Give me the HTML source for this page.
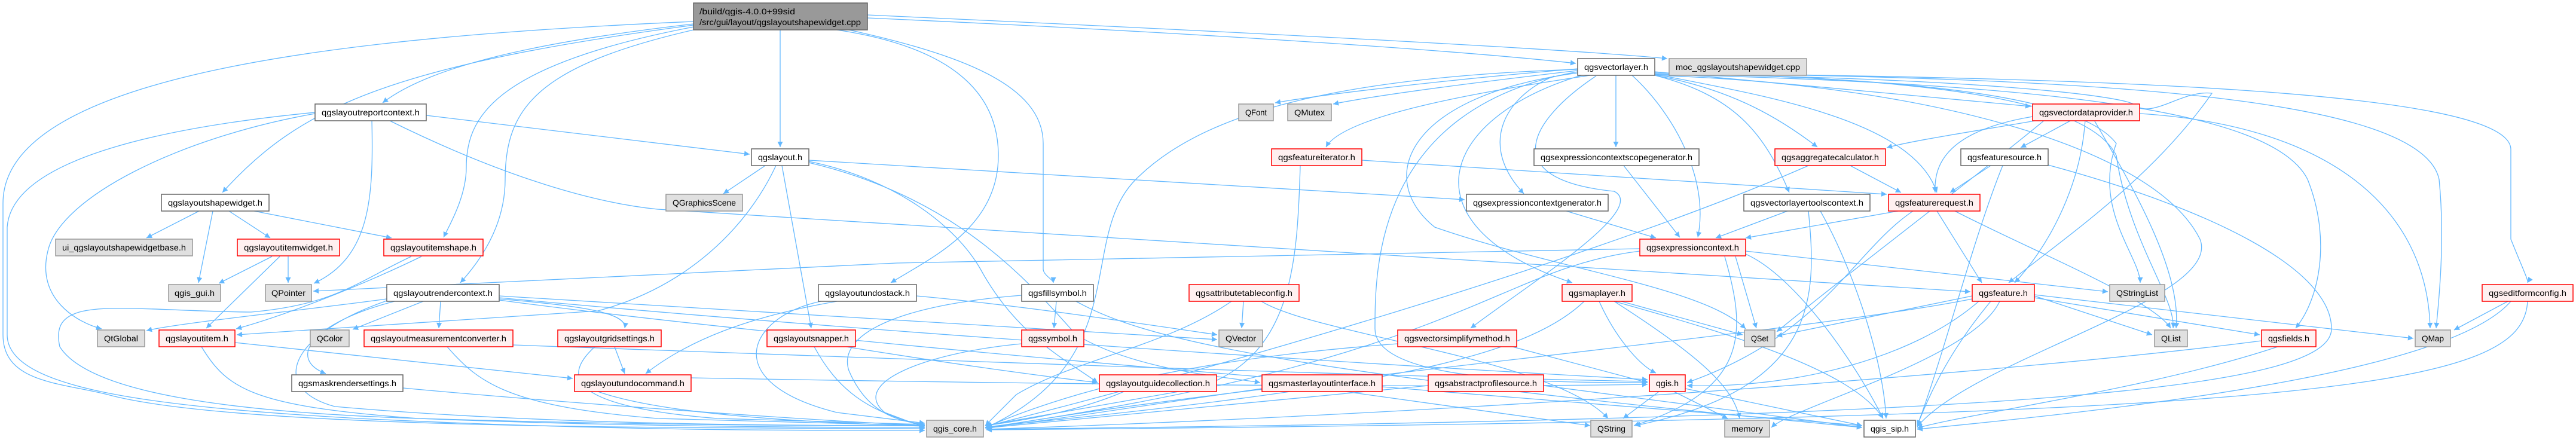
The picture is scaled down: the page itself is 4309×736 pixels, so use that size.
<!DOCTYPE html>
<html><head><meta charset="utf-8"><style>
html,body{margin:0;padding:0;background:#fff;}
svg{display:block;}
text{font-family:"Liberation Sans",sans-serif;font-size:14px;fill:#000;}
.e{fill:none;stroke:#63b8ff;stroke-width:1.3;}
.w{fill:#fff;stroke:#666;stroke-width:1.5;}
.r{fill:#fff0f0;stroke:#ff0000;stroke-width:1.5;}
.g{fill:#e0e0e0;stroke:#999;stroke-width:1.5;}
</style></head><body>
<svg width="4309" height="736" viewBox="0 0 4309 736" xmlns="http://www.w3.org/2000/svg">
<defs><marker id="a" viewBox="0 0 10 10" refX="10" refY="5" markerWidth="11" markerHeight="9" markerUnits="userSpaceOnUse" orient="auto"><path d="M0,0 L10,5 L0,10 z" fill="#63b8ff"/></marker></defs>
<g class="e" marker-end="url(#a)">
<path d="M1305 50 L1305 246"/>
<path d="M1160 40 C900 70 720 110 640 172"/>
<path d="M1160 42 C650 110 500 180 372 322"/>
<path d="M1160 45 C820 110 780 200 780 280 C780 330 750 380 742 397"/>
<path d="M1160 50 C900 110 845 180 845 300 C845 380 800 440 770 473"/>
<path d="M1160 36 C600 60 5 120 5 340 L5 560 C5 640 100 640 180 660 C400 720 1200 715 1547 717"/>
<path d="M1400 50 C1600 80 1670 160 1670 260 C1670 380 1560 430 1490 473"/>
<path d="M1420 50 C1600 90 1745 140 1745 240 L1745 450 C1745 460 1762 468 1762 473"/>
<path d="M1451 30 C1900 50 2400 80 2636 106"/>
<path d="M1451 25 C2000 50 2600 80 2789 98"/>
<path d="M527 190 C300 230 100 330 80 420 C60 500 130 540 170 550"/>
<path d="M622 201 C625 330 620 430 525 474"/>
<path d="M527 188 C300 210 20 260 12 380 L12 560 C12 650 250 680 600 700 C1000 720 1300 720 1547 720"/>
<path d="M713 193 L1254 258"/>
<path d="M650 201 C850 300 1000 340 1100 350 L3296 488"/>
<path d="M333 353 L245 398"/>
<path d="M356 353 L332 473"/>
<path d="M383 353 L452 398"/>
<path d="M425 353 L655 398"/>
<path d="M455 429 L366 474"/>
<path d="M482 429 L482 473"/>
<path d="M468 429 L345 549"/>
<path d="M705 429 C600 480 470 530 395 550"/>
<path d="M688 429 C600 470 560 510 420 522 C200 520 80 490 100 580 C150 660 400 690 700 700 C1100 712 1400 712 1547 712"/>
<path d="M647 500 C500 520 300 540 245 553"/>
<path d="M708 504 L590 551"/>
<path d="M737 504 L734 549"/>
<path d="M660 504 C520 540 480 600 545 625"/>
<path d="M650 502 C480 560 450 650 560 680 C900 710 1300 712 1547 712"/>
<path d="M835 495 L2036 568"/>
<path d="M835 500 C950 510 1050 520 1045 549"/>
<path d="M835 498 C1500 560 2300 610 2756 635"/>
<path d="M835 502 C1500 590 2500 660 3115 712"/>
<path d="M2743 416 L1500 440 L524 487"/>
<path d="M337 580 C380 650 420 680 700 700 C1000 712 1300 715 1547 715"/>
<path d="M393 573 L958 633"/>
<path d="M748 580 C800 640 850 680 1100 700 L1547 712"/>
<path d="M858 577 C1500 600 2300 630 2756 638"/>
<path d="M1028 580 L1045 625"/>
<path d="M995 580 C940 630 950 680 1200 700 L1547 710"/>
<path d="M674 649 C900 670 1300 700 1547 712"/>
<path d="M1000 655 C1100 690 1300 705 1547 713"/>
<path d="M1156 632 C1600 640 2300 650 2756 643"/>
<path d="M1280 277 L1210 324"/>
<path d="M1298 277 C1250 380 1150 480 1000 520 L396 560"/>
<path d="M1308 277 L1357 549"/>
<path d="M1353 268 L2450 334"/>
<path d="M1353 270 C1500 300 1600 380 1640 450 C1700 560 1780 600 1836 640"/>
<path d="M1353 272 C1600 330 1720 470 1800 560 C1900 620 2050 630 2108 640"/>
<path d="M1400 504 C1250 530 1150 570 1080 625"/>
<path d="M1373 504 C1250 530 1200 640 1400 690 L1547 708"/>
<path d="M1533 495 C1700 510 1900 540 2036 560"/>
<path d="M1767 504 L1763 549"/>
<path d="M1709 494 C1500 510 1400 560 1420 620 C1450 690 1500 705 1547 710"/>
<path d="M1800 504 C1900 560 2100 620 3115 715"/>
<path d="M2080 504 L2077 549"/>
<path d="M2060 504 C1950 580 1800 600 1700 660 L1648 712"/>
<path d="M2110 504 C2200 560 2600 600 2690 700"/>
<path d="M1362 580 C1400 650 1450 690 1547 712"/>
<path d="M1415 580 C1600 610 1750 630 1836 640"/>
<path d="M1709 575 C1550 590 1420 640 1480 690 L1547 715"/>
<path d="M1880 655 C1800 690 1700 705 1648 712"/>
<path d="M2111 650 C1900 680 1750 705 1648 715"/>
<path d="M2250 655 L2660 712"/>
<path d="M2639 115 C2400 135 2200 160 2133 172"/>
<path d="M2639 118 C2450 140 2300 160 2230 174"/>
<path d="M2660 126 C2500 150 2250 190 2218 246"/>
<path d="M2703 126 L2703 246"/>
<path d="M2600 127 C2520 160 2470 240 2549 324"/>
<path d="M2730 126 C2800 190 2860 300 2840 397"/>
<path d="M2768 126 C2900 150 2980 200 3040 246"/>
<path d="M2768 126 C2900 160 2950 220 2993 322"/>
<path d="M2768 124 C2950 160 3200 200 3240 322"/>
<path d="M2768 120 C3000 140 3200 160 3397 178"/>
<path d="M2645 126 C2400 200 2350 380 2630 473"/>
<path d="M2670 127 C2560 200 2500 300 2700 320 C2760 350 2550 480 2460 549"/>
<path d="M2639 122 C2350 160 2300 300 2400 380 C2600 450 2850 480 2920 550"/>
<path d="M2639 120 C2300 180 2300 450 2300 550 C2300 640 2600 640 2756 640"/>
<path d="M2639 116 C2200 130 2000 200 1900 300 C1800 400 1900 600 1648 716"/>
<path d="M2768 122 C3500 130 4200 150 4200 250 L4200 400 C4220 450 4230 470 4228 473"/>
<path d="M2768 122 C3500 130 4050 160 4080 300 C4090 400 4080 500 4075 549"/>
<path d="M2768 124 C3400 140 3800 180 3860 300 C3900 400 3880 500 3840 549"/>
<path d="M2768 122 C3300 130 3500 180 3540 260 C3560 400 3640 500 3635 549"/>
<path d="M2768 122 C3200 130 3480 160 3540 240 C3500 350 3580 430 3580 473"/>
<path d="M2768 124 C3300 130 3550 160 3570 175 C3600 200 3650 150 3700 156 C3600 300 3450 400 3360 473"/>
<path d="M2768 126 C3200 140 3600 240 3680 400 C3720 500 3300 600 3207 714"/>
<path d="M3465 201 L3380 247"/>
<path d="M3400 195 C3250 220 3235 280 3237 322"/>
<path d="M3488 201 C3480 320 3420 420 3370 473"/>
<path d="M3503 201 C3560 300 3650 450 3640 549"/>
<path d="M3579 190 C3900 210 4060 350 4065 549"/>
<path d="M3410 201 C3300 220 3200 235 3156 247"/>
<path d="M3420 201 C3300 300 3100 450 2972 555"/>
<path d="M3330 277 L3262 322"/>
<path d="M3350 277 C3300 400 3250 600 3207 712"/>
<path d="M3426 276 C3700 350 3900 450 3900 550 C3900 650 3400 700 1650 718"/>
<path d="M3095 277 L3180 322"/>
<path d="M3025 277 C2700 420 2100 600 1650 713"/>
<path d="M2716 277 L2810 397"/>
<path d="M2620 353 L2770 398"/>
<path d="M2990 353 L2870 398"/>
<path d="M3025 353 C3040 500 3040 650 2735 712"/>
<path d="M3045 353 C3100 450 3150 600 3155 700"/>
<path d="M3175 353 L2920 398"/>
<path d="M3240 353 L3315 473"/>
<path d="M3270 353 C3400 420 3600 500 3631 549"/>
<path d="M3200 353 C3100 420 3050 560 2822 640"/>
<path d="M2278 268 L3156 325"/>
<path d="M2175 277 C2170 450 2160 600 2000 650 L1648 712"/>
<path d="M2903 429 L2938 549"/>
<path d="M2885 429 C2920 550 2930 650 2733 712"/>
<path d="M2920 420 L3526 488"/>
<path d="M2743 420 C2500 450 2450 600 1650 715"/>
<path d="M2920 425 C3000 460 3100 600 3150 700"/>
<path d="M2712 504 L2915 560"/>
<path d="M2675 504 C2700 560 2740 610 2770 624"/>
<path d="M2700 504 C2900 560 3100 620 3150 700"/>
<path d="M2650 504 C2550 600 2300 650 1650 714"/>
<path d="M2700 504 C2850 600 2900 650 2910 700"/>
<path d="M2338 575 C2000 600 1800 650 1648 715"/>
<path d="M2530 580 L2756 640"/>
<path d="M2389 645 L1648 716"/>
<path d="M2582 645 L3115 715"/>
<path d="M2775 655 L2715 700"/>
<path d="M2800 655 L2890 700"/>
<path d="M2819 650 L3115 712"/>
<path d="M3403 495 L3600 560"/>
<path d="M3403 498 L3780 560"/>
<path d="M3403 493 L4037 566"/>
<path d="M3299 495 L2972 562"/>
<path d="M3299 500 C3000 560 2000 650 1650 717"/>
<path d="M3330 504 C3250 600 3220 680 3207 712"/>
<path d="M3310 504 C3200 600 3000 650 2822 645"/>
<path d="M3345 504 C3300 600 3000 680 2963 715"/>
<path d="M3783 570 C3400 620 2500 690 1650 718"/>
<path d="M3810 580 C3600 650 3300 690 3207 716"/>
<path d="M4195 504 L4105 552"/>
<path d="M4228 504 C4220 650 3900 700 1650 719"/>
<path d="M4200 504 C4100 620 3600 680 3207 718"/>
</g>
<g>
<rect class="g" x="1160" y="5" width="291" height="45" style="fill:#999;stroke:#666"/>
<text x="1170" y="24" textLength="160" lengthAdjust="spacingAndGlyphs">/build/qgis-4.0.0+99sid</text>
<text x="1170" y="42" textLength="270" lengthAdjust="spacingAndGlyphs">/src/gui/layout/qgslayoutshapewidget.cpp</text>
<rect class="w" x="527" y="174" width="186" height="28"/><text x="538" y="193" textLength="164" lengthAdjust="spacingAndGlyphs">qgslayoutreportcontext.h</text>
<rect class="w" x="270" y="325" width="180" height="28"/><text x="281" y="344" textLength="158" lengthAdjust="spacingAndGlyphs">qgslayoutshapewidget.h</text>
<rect class="g" x="93" y="400" width="229" height="28"/><text x="104" y="419" textLength="207" lengthAdjust="spacingAndGlyphs">ui_qgslayoutshapewidgetbase.h</text>
<rect class="r" x="397" y="400" width="171" height="28"/><text x="408" y="419" textLength="149" lengthAdjust="spacingAndGlyphs">qgslayoutitemwidget.h</text>
<rect class="r" x="642" y="400" width="166" height="28"/><text x="653" y="419" textLength="144" lengthAdjust="spacingAndGlyphs">qgslayoutitemshape.h</text>
<rect class="g" x="282" y="476" width="87" height="28"/><text x="292" y="495" textLength="67" lengthAdjust="spacingAndGlyphs">qgis_gui.h</text>
<rect class="g" x="444" y="476" width="77" height="28"/><text x="454" y="495" textLength="57" lengthAdjust="spacingAndGlyphs">QPointer</text>
<rect class="w" x="647" y="476" width="188" height="28"/><text x="658" y="495" textLength="166" lengthAdjust="spacingAndGlyphs">qgslayoutrendercontext.h</text>
<rect class="g" x="163" y="552" width="79" height="28"/><text x="174" y="571" textLength="57" lengthAdjust="spacingAndGlyphs">QtGlobal</text>
<rect class="r" x="266" y="552" width="127" height="28"/><text x="277" y="571" textLength="105" lengthAdjust="spacingAndGlyphs">qgslayoutitem.h</text>
<rect class="g" x="519" y="552" width="65" height="28"/><text x="530" y="571" textLength="43" lengthAdjust="spacingAndGlyphs">QColor</text>
<rect class="r" x="609" y="552" width="249" height="28"/><text x="620" y="571" textLength="227" lengthAdjust="spacingAndGlyphs">qgslayoutmeasurementconverter.h</text>
<rect class="r" x="933" y="552" width="173" height="28"/><text x="944" y="571" textLength="151" lengthAdjust="spacingAndGlyphs">qgslayoutgridsettings.h</text>
<rect class="w" x="488" y="627" width="186" height="28"/><text x="499" y="646" textLength="164" lengthAdjust="spacingAndGlyphs">qgsmaskrendersettings.h</text>
<rect class="r" x="961" y="627" width="195" height="28"/><text x="972" y="646" textLength="173" lengthAdjust="spacingAndGlyphs">qgslayoutundocommand.h</text>
<rect class="w" x="1257" y="249" width="96" height="28"/><text x="1268" y="268" textLength="74" lengthAdjust="spacingAndGlyphs">qgslayout.h</text>
<rect class="g" x="1114" y="325" width="128" height="28"/><text x="1125" y="344" textLength="106" lengthAdjust="spacingAndGlyphs">QGraphicsScene</text>
<rect class="w" x="1369" y="476" width="164" height="28"/><text x="1380" y="495" textLength="142" lengthAdjust="spacingAndGlyphs">qgslayoutundostack.h</text>
<rect class="w" x="1709" y="476" width="120" height="28"/><text x="1720" y="495" textLength="98" lengthAdjust="spacingAndGlyphs">qgsfillsymbol.h</text>
<rect class="r" x="1989" y="476" width="184" height="28"/><text x="2000" y="495" textLength="162" lengthAdjust="spacingAndGlyphs">qgsattributetableconfig.h</text>
<rect class="r" x="1283" y="552" width="148" height="28"/><text x="1294" y="571" textLength="126" lengthAdjust="spacingAndGlyphs">qgslayoutsnapper.h</text>
<rect class="r" x="1709" y="552" width="104" height="28"/><text x="1720" y="571" textLength="82" lengthAdjust="spacingAndGlyphs">qgssymbol.h</text>
<rect class="g" x="2039" y="552" width="73" height="28"/><text x="2050" y="571" textLength="51" lengthAdjust="spacingAndGlyphs">QVector</text>
<rect class="r" x="1839" y="627" width="196" height="28"/><text x="1850" y="646" textLength="174" lengthAdjust="spacingAndGlyphs">qgslayoutguidecollection.h</text>
<rect class="r" x="2111" y="627" width="201" height="28"/><text x="2122" y="646" textLength="179" lengthAdjust="spacingAndGlyphs">qgsmasterlayoutinterface.h</text>
<rect class="g" x="1550" y="703" width="95" height="28"/><text x="1561" y="722" textLength="73" lengthAdjust="spacingAndGlyphs">qgis_core.h</text>
<rect class="g" x="2072" y="174" width="58" height="28"/><text x="2083" y="193" textLength="36" lengthAdjust="spacingAndGlyphs">QFont</text>
<rect class="g" x="2154" y="174" width="73" height="28"/><text x="2165" y="193" textLength="51" lengthAdjust="spacingAndGlyphs">QMutex</text>
<rect class="r" x="2127" y="249" width="151" height="28"/><text x="2138" y="268" textLength="129" lengthAdjust="spacingAndGlyphs">qgsfeatureiterator.h</text>
<rect class="w" x="2639" y="98" width="129" height="28"/><text x="2650" y="117" textLength="107" lengthAdjust="spacingAndGlyphs">qgsvectorlayer.h</text>
<rect class="g" x="2792" y="98" width="230" height="28"/><text x="2803" y="117" textLength="208" lengthAdjust="spacingAndGlyphs">moc_qgslayoutshapewidget.cpp</text>
<rect class="w" x="2566" y="249" width="276" height="28"/><text x="2577" y="268" textLength="254" lengthAdjust="spacingAndGlyphs">qgsexpressioncontextscopegenerator.h</text>
<rect class="r" x="2969" y="249" width="185" height="28"/><text x="2980" y="268" textLength="163" lengthAdjust="spacingAndGlyphs">qgsaggregatecalculator.h</text>
<rect class="w" x="2453" y="325" width="237" height="28"/><text x="2464" y="344" textLength="215" lengthAdjust="spacingAndGlyphs">qgsexpressioncontextgenerator.h</text>
<rect class="w" x="2917" y="325" width="211" height="28"/><text x="2928" y="344" textLength="189" lengthAdjust="spacingAndGlyphs">qgsvectorlayertoolscontext.h</text>
<rect class="r" x="3159" y="325" width="153" height="28"/><text x="3170" y="344" textLength="131" lengthAdjust="spacingAndGlyphs">qgsfeaturerequest.h</text>
<rect class="r" x="2743" y="400" width="177" height="28"/><text x="2754" y="419" textLength="155" lengthAdjust="spacingAndGlyphs">qgsexpressioncontext.h</text>
<rect class="r" x="2613" y="476" width="117" height="28"/><text x="2624" y="495" textLength="95" lengthAdjust="spacingAndGlyphs">qgsmaplayer.h</text>
<rect class="r" x="2338" y="552" width="199" height="28"/><text x="2349" y="571" textLength="177" lengthAdjust="spacingAndGlyphs">qgsvectorsimplifymethod.h</text>
<rect class="g" x="2918" y="552" width="51" height="28"/><text x="2929" y="571" textLength="29" lengthAdjust="spacingAndGlyphs">QSet</text>
<rect class="r" x="2389" y="627" width="193" height="28"/><text x="2400" y="646" textLength="171" lengthAdjust="spacingAndGlyphs">qgsabstractprofilesource.h</text>
<rect class="r" x="2759" y="627" width="60" height="28"/><text x="2770" y="646" textLength="38" lengthAdjust="spacingAndGlyphs">qgis.h</text>
<rect class="g" x="2661" y="703" width="69" height="28"/><text x="2672" y="722" textLength="47" lengthAdjust="spacingAndGlyphs">QString</text>
<rect class="g" x="2885" y="703" width="75" height="28"/><text x="2896" y="722" textLength="53" lengthAdjust="spacingAndGlyphs">memory</text>
<rect class="w" x="3118" y="703" width="86" height="28"/><text x="3129" y="722" textLength="64" lengthAdjust="spacingAndGlyphs">qgis_sip.h</text>
<rect class="r" x="3400" y="174" width="179" height="28"/><text x="3411" y="193" textLength="157" lengthAdjust="spacingAndGlyphs">qgsvectordataprovider.h</text>
<rect class="w" x="3280" y="249" width="146" height="28"/><text x="3291" y="268" textLength="124" lengthAdjust="spacingAndGlyphs">qgsfeaturesource.h</text>
<rect class="r" x="3299" y="476" width="104" height="28"/><text x="3310" y="495" textLength="82" lengthAdjust="spacingAndGlyphs">qgsfeature.h</text>
<rect class="g" x="3529" y="476" width="92" height="28"/><text x="3540" y="495" textLength="70" lengthAdjust="spacingAndGlyphs">QStringList</text>
<rect class="r" x="4152" y="476" width="152" height="28"/><text x="4163" y="495" textLength="130" lengthAdjust="spacingAndGlyphs">qgseditformconfig.h</text>
<rect class="g" x="3604" y="552" width="55" height="28"/><text x="3615" y="571" textLength="33" lengthAdjust="spacingAndGlyphs">QList</text>
<rect class="r" x="3783" y="552" width="91" height="28"/><text x="3794" y="571" textLength="69" lengthAdjust="spacingAndGlyphs">qgsfields.h</text>
<rect class="g" x="4040" y="552" width="59" height="28"/><text x="4051" y="571" textLength="37" lengthAdjust="spacingAndGlyphs">QMap</text>
</g>
</svg>
</body></html>
